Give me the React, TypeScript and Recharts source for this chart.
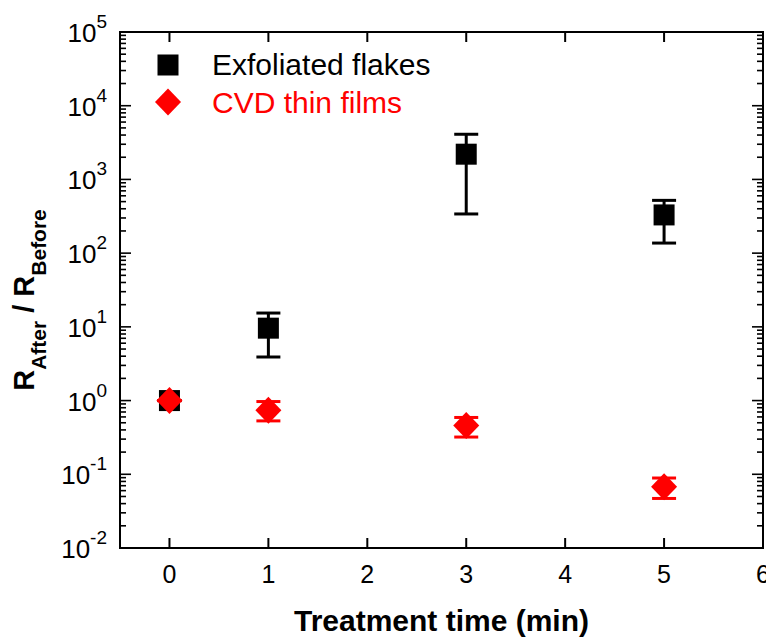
import React from 'react';
import {
  ScatterChart,
  Scatter,
  XAxis,
  YAxis,
  ErrorBar,
  ReferenceArea,
  Legend,
} from 'recharts';

// treatment times (min)
const flakeTimes = [0, 1, 3, 5];
const flakeRatio = [1.0, 9.6, 2200, 330];
const flakeLow = [1.0, 3.9, 340, 137];
const flakeHigh = [1.0, 15.4, 4100, 520];

const cvdTimes = [0, 1, 3, 5];
const cvdRatio = [1.0, 0.74, 0.46, 0.068];
const cvdLow = [1.0, 0.53, 0.32, 0.047];
const cvdHigh = [1.0, 0.97, 0.59, 0.089];

const xTicks = [0, 1, 2, 3, 4, 5, 6];
const decades = [0.01, 0.1, 1, 10, 100, 1000, 10000, 100000];
const decadeExp = ['-2', '-1', '0', '1', '2', '3', '4', '5'];
const minorSteps = [2, 3, 4, 5, 6, 7, 8, 9];

const yTicks = decades.flatMap((d, i) =>
  i < decades.length - 1 ? [d, ...minorSteps.map((m) => m * d)] : [d]
);

// plot frame
const PL = 120;
const PR = 763;
const PT = 32;
const PB = 548;
const FONT = '"Liberation Sans", Arial, Helvetica, sans-serif';

const toRows = (xs: number[], ys: number[], lo: number[], hi: number[]) =>
  xs.map((x, i) => ({ x, y: ys[i], err: [ys[i] - lo[i], hi[i] - ys[i]] }));

const flakeData = toRows(flakeTimes, flakeRatio, flakeLow, flakeHigh);
const cvdData = toRows(cvdTimes, cvdRatio, cvdLow, cvdHigh);

const Square = (props: any) => {
  const { cx, cy } = props;
  if (cx == null || cy == null) return null;
  return <rect x={cx - 10.5} y={cy - 10.5} width={21} height={21} fill="#000" />;
};

const Diamond = (props: any) => {
  const { cx, cy } = props;
  if (cx == null || cy == null) return null;
  return (
    <polygon
      points={`${cx},${cy - 13.5} ${cx + 13},${cy} ${cx},${cy + 13.5} ${cx - 13},${cy}`}
      fill="#ff0000"
    />
  );
};

const XTick = (props: any) => {
  const { x, payload } = props;
  return (
    <g>
      <line x1={x} x2={x} y1={PB} y2={PB - 10} stroke="#000" strokeWidth={2} />
      <line x1={x} x2={x} y1={PT} y2={PT + 10} stroke="#000" strokeWidth={2} />
      <text x={x} y={PB + 35} textAnchor="middle" fontFamily={FONT} fontSize={25} fill="#000">
        {payload.value}
      </text>
    </g>
  );
};

const YTick = (props: any) => {
  const { y, payload } = props;
  const idx = decades.findIndex((d) => Math.abs(d - payload.value) / d < 1e-6);
  const major = idx >= 0;
  const len = major ? 11 : 6;
  return (
    <g>
      <line x1={PL} x2={PL + len} y1={y} y2={y} stroke="#000" strokeWidth={1.6} />
      <line x1={PR} x2={PR - len} y1={y} y2={y} stroke="#000" strokeWidth={1.6} />
      {major && (
        <text x={107} y={y + 10} textAnchor="end" fontFamily={FONT} fontSize={26} fill="#000">
          10
          <tspan dy={-14} fontSize={19}>
            {decadeExp[idx]}
          </tspan>
        </text>
      )}
    </g>
  );
};

const renderLegend = () => (
  <svg width={330} height={80} style={{ display: 'block' }}>
    <rect x={7.5} y={6.5} width={21} height={21} fill="#000" />
    <text x={62} y={27} fontFamily={FONT} fontSize={30} fill="#000">
      Exfoliated flakes
    </text>
    <polygon points="18,40.5 31,54 18,67.5 5,54" fill="#ff0000" />
    <text x={62} y={65} fontFamily={FONT} fontSize={30} fill="#ff0000">
      CVD thin films
    </text>
  </svg>
);

const YTitle = () => (
  <text
    transform="translate(34,300) rotate(-90)"
    textAnchor="middle"
    fontFamily={FONT}
    fontWeight="bold"
    fontSize={29}
    fill="#000"
  >
    R
    <tspan dy={12} fontSize={21}>After</tspan>
    <tspan dy={-12} fontSize={29}> / R</tspan>
    <tspan dy={12} fontSize={21}>Before</tspan>
  </text>
);

const XTitle = () => (
  <text
    x={(PL + PR) / 2}
    y={631}
    textAnchor="middle"
    fontFamily={FONT}
    fontWeight="bold"
    fontSize={30}
    fill="#000"
  >
    Treatment time (min)
  </text>
);

export default function App() {
  return (
    <div
      style={{
        position: 'absolute',
        left: 0,
        top: 0,
        width: 766,
        height: 637,
        overflow: 'hidden',
        background: '#fff',
      }}
    >
      <ScatterChart width={766} height={637} margin={{ top: PT, right: 766 - PR, bottom: 0, left: 0 }}>
        <XAxis
          type="number"
          dataKey="x"
          domain={[-0.5, 6]}
          ticks={xTicks}
          interval={0}
          allowDataOverflow
          axisLine={false}
          tickLine={false}
          tick={<XTick />}
          height={637 - PB}
          label={<XTitle />}
        />
        <YAxis
          type="number"
          dataKey="y"
          scale="log"
          domain={[0.01, 100000]}
          ticks={yTicks}
          interval={0}
          allowDataOverflow
          axisLine={false}
          tickLine={false}
          tick={<YTick />}
          width={PL}
          label={<YTitle />}
        />
        <ReferenceArea
          x1={-0.5}
          x2={6}
          y1={0.01}
          y2={100000}
          fill="none"
          fillOpacity={0}
          stroke="#000"
          strokeWidth={2}
        />
        <Legend
          layout="vertical"
          align="center"
          verticalAlign="middle"
          wrapperStyle={{ left: 150, top: 48, width: 330, height: 80 }}
          content={renderLegend}
        />
        <Scatter name="Exfoliated flakes" data={flakeData} fill="#000" shape={<Square />} isAnimationActive={false}>
          <ErrorBar dataKey="err" direction="y" width={12} strokeWidth={3} stroke="#000" />
        </Scatter>
        <Scatter name="CVD thin films" data={cvdData} fill="#ff0000" shape={<Diamond />} isAnimationActive={false}>
          <ErrorBar dataKey="err" direction="y" width={12} strokeWidth={3} stroke="#ff0000" />
        </Scatter>
      </ScatterChart>
    </div>
  );
}
